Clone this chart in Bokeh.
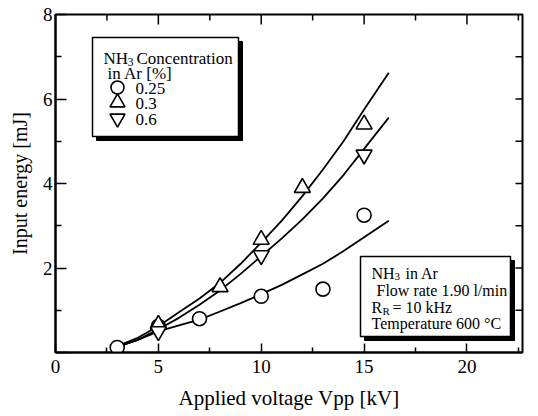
from bokeh.plotting import figure
from bokeh.models import FixedTicker, Range1d, Label
from bokeh.embed import file_html
from bokeh.resources import INLINE

# ---- data ----
c25_x = [3, 5, 7, 10, 13, 15]
c25_y = [0.12, 0.62, 0.80, 1.33, 1.50, 3.25]
t03_x = [5, 8, 10, 12, 15]
t03_y = [0.66, 1.55, 2.67, 3.90, 5.40]
t06_x = [5, 10, 15]
t06_y = [0.50, 2.30, 4.68]

fit_x = [3, 4, 5, 6, 7, 8, 9, 10, 11, 12, 13, 14, 15, 16.2]
fit03_y = [0.15, 0.35, 0.62, 0.95, 1.28, 1.65, 2.10, 2.60, 3.12, 3.70, 4.33, 5.00, 5.75, 6.62]
fit06_y = [0.13, 0.30, 0.55, 0.82, 1.13, 1.47, 1.86, 2.28, 2.70, 3.15, 3.65, 4.20, 4.82, 5.56]
fit25_y = [0.13, 0.30, 0.50, 0.64, 0.78, 0.97, 1.17, 1.38, 1.60, 1.85, 2.10, 2.40, 2.73, 3.12]

x_major = [0, 5, 10, 15, 20]
x_minor = [2.5, 7.5, 12.5, 17.5, 22.5]
y_major = [0, 2, 4, 6, 8]
y_minor = [1, 3, 5, 7]

legend_labels = ["0.25", "0.3", "0.6"]

XMAX, YMAX = 22.7, 8.0
FONT = "Liberation Serif"

# frame geometry in pixels
FL, FR, FT, FB = 55, 522, 14, 352
TEXT_SHIFT = 5   # compensates the label baseline offset


def dx(px):
    return (px - FL) / (FR - FL) * XMAX


def dy(py):
    return (FB - py) / (FB - FT) * YMAX


def wx(n):   # pixel length -> data length along x
    return n / (FR - FL) * XMAX


def wy(n):   # pixel length -> data length along y
    return n / (FB - FT) * YMAX


p = figure(width=538, height=416, x_range=Range1d(0, XMAX), y_range=Range1d(0, YMAX),
           toolbar_location=None, output_backend="svg",
           min_border_left=FL, min_border_right=538 - FR,
           min_border_top=FT, min_border_bottom=416 - FB,
           background_fill_color="white", border_fill_color="white")
p.outline_line_color = "black"
p.outline_line_width = 2
p.grid.visible = False


def style_axis(ax, ticks, minor, major_in, minor_in):
    ax.ticker = FixedTicker(ticks=ticks, minor_ticks=minor)
    ax.axis_line_width = 2
    ax.axis_line_color = "black"
    ax.major_tick_in = major_in
    ax.major_tick_out = 0
    ax.minor_tick_in = minor_in
    ax.minor_tick_out = 0
    ax.major_tick_line_width = 1.5
    ax.minor_tick_line_width = 1.5
    ax.major_tick_line_color = "black"
    ax.minor_tick_line_color = "black"
    ax.major_label_text_font = FONT
    ax.major_label_text_font_size = "19px"
    ax.major_label_text_color = "black"
    ax.axis_label_text_font = FONT
    ax.axis_label_text_font_style = "normal"
    ax.axis_label_text_color = "black"


xa = p.xaxis[0]
style_axis(xa, x_major, x_minor, 9, 5)
xa.major_label_standoff = 7
xa.axis_label = "Applied voltage Vpp [kV]"
xa.axis_label_text_font_size = "21px"
xa.axis_label_standoff = 10

ya = p.yaxis[0]
style_axis(ya, y_major, y_minor, 11, 6)
ya.major_label_overrides = {0: ""}
ya.major_label_standoff = 3
ya.axis_label = "Input energy [mJ]"
ya.axis_label_text_font_size = "20px"
ya.axis_label_standoff = 9

# inward ticks on the top and right edges of the frame
top_major = [t for t in x_major if 0 < t < XMAX]
p.segment(x0=top_major, x1=top_major, y0=[YMAX] * len(top_major),
          y1=[YMAX - wy(10)] * len(top_major), line_color="black", line_width=1.5)
p.segment(x0=x_minor, x1=x_minor, y0=[YMAX] * len(x_minor),
          y1=[YMAX - wy(6)] * len(x_minor), line_color="black", line_width=1.5)
right_ticks = [t for t in sorted(y_major + y_minor) if 0 < t < YMAX]
p.segment(x0=[XMAX] * len(right_ticks), x1=[XMAX - wx(7)] * len(right_ticks),
          y0=right_ticks, y1=right_ticks, line_color="black", line_width=1.5)

# fitted curves
for fy in (fit03_y, fit06_y, fit25_y):
    p.line(fit_x, fy, line_color="black", line_width=1.8)

# data markers
mk = dict(fill_color="white", line_color="black", line_width=1.6)
p.scatter(c25_x, c25_y, marker="circle", size=14, **mk)
p.scatter(t03_x, t03_y, marker="triangle", size=16, **mk)
p.scatter(t06_x, t06_y, marker="inverted_triangle", size=16, **mk)


# ---- boxes with drop shadow ----
def box(l, t, r, b, sh=4):
    p.quad(left=[dx(l + sh)], right=[dx(r + sh)], top=[dy(t + sh)], bottom=[dy(b + sh)],
           fill_color="black", line_color="black")
    p.quad(left=[dx(l)], right=[dx(r)], top=[dy(t)], bottom=[dy(b)],
           fill_color="white", line_color="black", line_width=1.5)


def txt(x, y, s, size=17):
    p.add_layout(Label(x=dx(x), y=dy(y - TEXT_SHIFT), text=s, text_font=FONT,
                       text_font_size=f"{size}px", text_baseline="alphabetic",
                       text_align="left", text_color="black"))


# legend
box(92, 37, 238, 136)
txt(103, 63, "NH")
txt(127, 66, "3", 12)
txt(136, 63, "Concentration")
txt(107, 78, "in Ar [%]")

lx = dx(117)
p.scatter([lx], [dy(87)], marker="circle", size=13, **mk)
p.scatter([lx], [dy(102)], marker="triangle", size=15, **mk)
p.scatter([lx], [dy(118)], marker="inverted_triangle", size=15, **mk)
for lab, yy in zip(legend_labels, [93, 108, 124]):
    txt(135, yy, lab, 17)

# info box
box(360, 256, 510, 336)
txt(371, 278, "NH", 16)
txt(394, 281, "3", 11)
txt(405, 278, "in Ar", 16)
txt(376, 295, "Flow rate 1.90 l/min", 16)
txt(371, 312, "R", 16)
txt(382, 315, "R", 11)
txt(392, 312, "= 10 kHz", 16)
txt(371, 328, "Temperature 600  \u00b0C", 16)

open("out.html", "w").write(file_html(p, INLINE))
